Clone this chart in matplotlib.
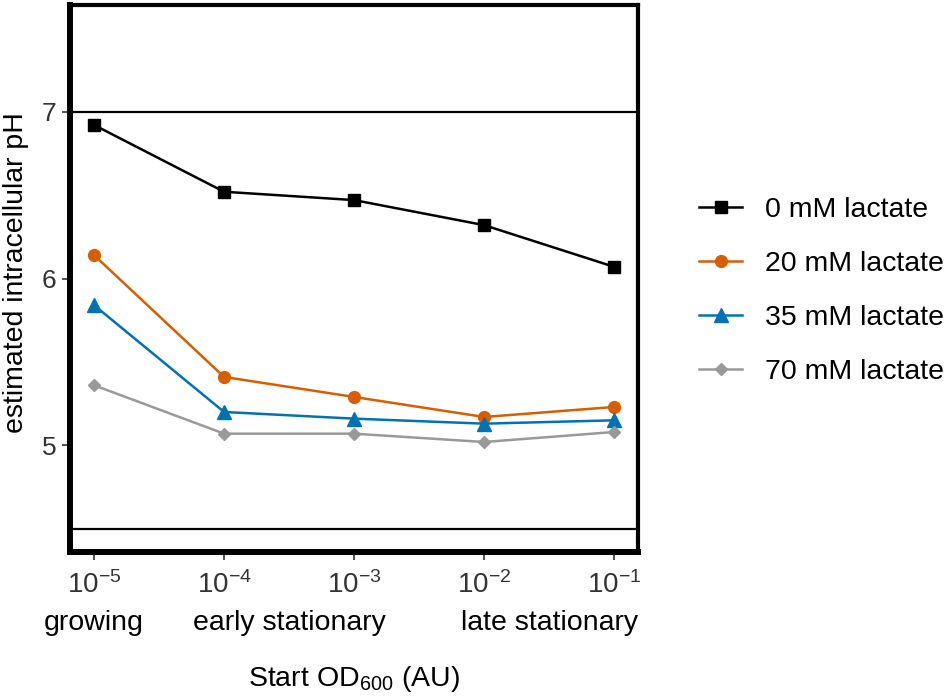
import matplotlib
matplotlib.use("Agg")
import matplotlib.pyplot as plt
import numpy as np

plt.rcParams['font.family'] = ['Liberation Sans', 'DejaVu Sans']
plt.rcParams['mathtext.fontset'] = 'custom'
plt.rcParams['mathtext.rm'] = 'Liberation Sans'
plt.rcParams['mathtext.it'] = 'Liberation Sans:italic'
plt.rcParams['mathtext.default'] = 'regular'

# data
start_od = [1e-5, 1e-4, 1e-3, 1e-2, 1e-1]
tick_labels = [r'$10^{-5}$', r'$10^{-4}$', r'$10^{-3}$', r'$10^{-2}$', r'$10^{-1}$']
phase_labels = ['growing', 'early stationary', 'late stationary']
phase_x = [1e-5, 10 ** -3.5, 10 ** -1.5]

ph_0 = [6.92, 6.52, 6.47, 6.32, 6.07]
ph_20 = [6.14, 5.41, 5.29, 5.17, 5.23]
ph_35 = [5.84, 5.20, 5.16, 5.13, 5.15]
ph_70 = [5.36, 5.07, 5.07, 5.02, 5.08]
ref_lines = [7.0, 4.5]

series = [
    ("0 mM lactate", ph_0, "black", "s", 9),
    ("20 mM lactate", ph_20, "#D55E00", "o", 8.5),
    ("35 mM lactate", ph_35, "#0072B2", "^", 10),
    ("70 mM lactate", ph_70, "#999999", "D", 6),
]

fig = plt.figure(figsize=(9.5, 6.98), dpi=100)
ax = fig.add_axes([0.0737, 0.209, 0.598, 0.784])

for y in ref_lines:
    ax.axhline(y, color="black", lw=1.6, zorder=1)

for label, vals, col, mk, ms in series:
    ax.plot(start_od, vals, color=col, marker=mk, ms=ms, lw=1.8,
            label=label, zorder=3)

ax.set_xscale("log")
ax.set_xlim(10 ** -5.185, 10 ** -0.815)
ax.set_ylim(4.36, 7.64)
ax.set_xticks(start_od)
ax.set_xticklabels(tick_labels)
ax.minorticks_off()
ax.set_yticks([5, 6, 7])

ax.tick_params(axis="both", direction="out", length=6, width=1.2,
               color="#333333", labelcolor="#333333")
ax.tick_params(axis="x", pad=8, labelsize=20)
ax.tick_params(axis="y", pad=4, labelsize=19)

for s in ["left", "bottom"]:
    ax.spines[s].set_linewidth(4.3)
for s in ["top", "right"]:
    ax.spines[s].set_linewidth(3)

trans = matplotlib.transforms.blended_transform_factory(ax.transData, ax.transAxes)
for x, txt in zip(phase_x, phase_labels):
    ax.text(x, -0.13, txt, transform=trans, ha="center", va="center",
            fontsize=20.5, color="black")

ax.set_ylabel("estimated intracellular pH", fontsize=20.5)
ax.yaxis.set_label_coords(-0.072, 0.51)
ax.set_xlabel("Start OD$_{600}$ (AU)", fontsize=20.5)
ax.xaxis.set_label_coords(0.5, -0.205)
ax.xaxis.label.set_va("top")

fig.legend(loc="center left", bbox_to_anchor=(0.736, 0.583), frameon=False,
           fontsize=20.5, borderpad=0, borderaxespad=0, handlelength=1.5,
           handletextpad=0.8, labelspacing=0.99)

fig.savefig("out.png", dpi=100)
